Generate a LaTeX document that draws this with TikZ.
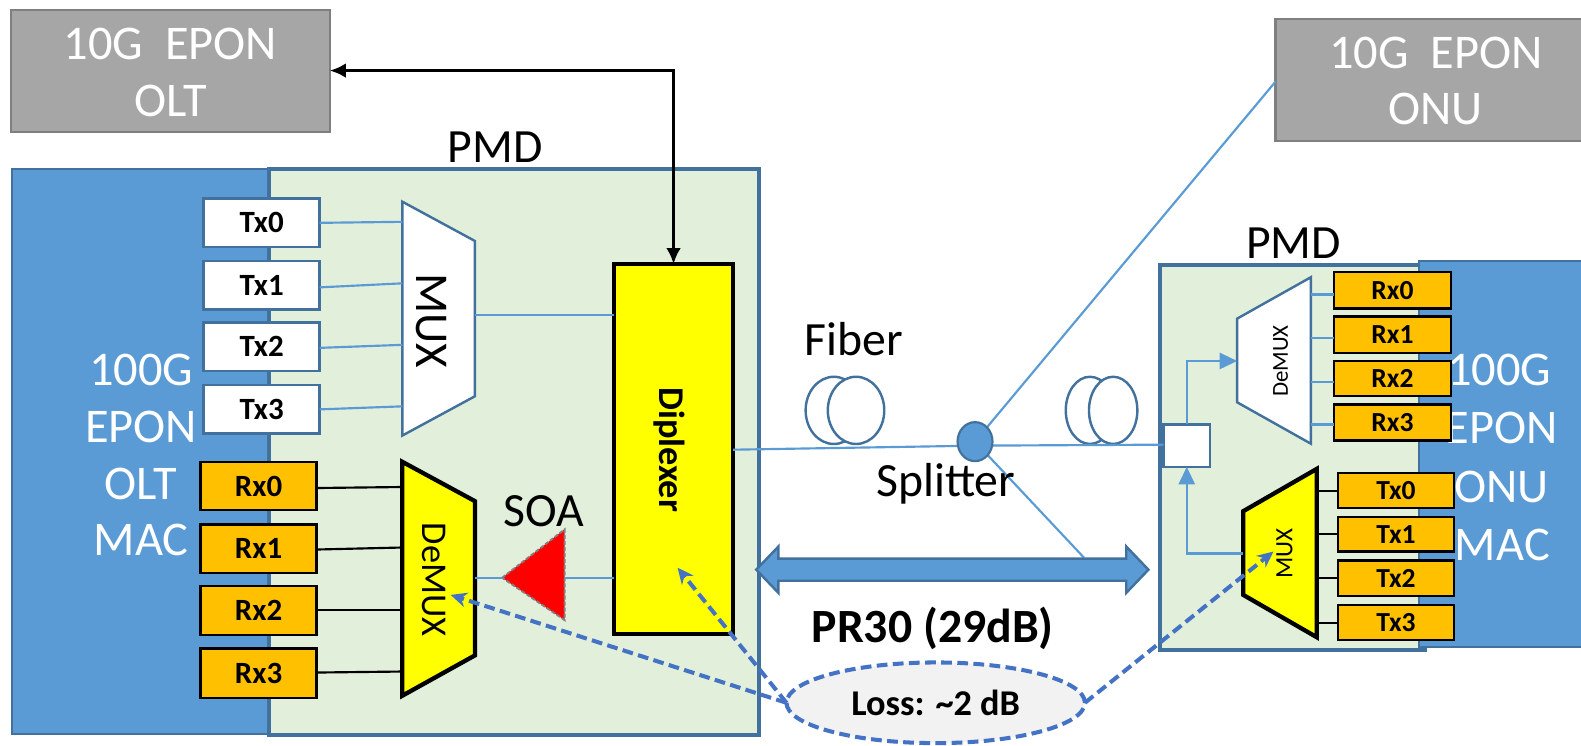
\documentclass[tikz,border=0pt]{standalone}
\usepackage{fontspec}
\setmainfont{Carlito}
\usetikzlibrary{arrows.meta,shapes.geometric,shapes.arrows}
\definecolor{macblue}{HTML}{5B9BD5}
\definecolor{edgeblue}{HTML}{41719C}
\definecolor{pmdgreen}{HTML}{E2EFDA}
\definecolor{dashblue}{HTML}{4472C4}
\definecolor{orangebox}{HTML}{FFC000}
\definecolor{graybox}{HTML}{A6A6A6}
\definecolor{grayedge}{HTML}{7F7F7F}
\definecolor{lossfill}{HTML}{F2F2F2}
\definecolor{pureyellow}{HTML}{FFFF00}
\definecolor{purered}{HTML}{FF0000}
\newcommand{\fsz}[1]{\fontsize{#1}{#1}\selectfont}
% \bx{name}{x0}{y0}{x1}{y1}{style}{text}
\newcommand{\bx}[7]{%
  \pgfmathsetmacro{\bxcx}{(#2+#4)/2}\pgfmathsetmacro{\bxcy}{(#3+#5)/2}%
  \pgfmathsetmacro{\bxw}{(#4-#2)*0.75}\pgfmathsetmacro{\bxh}{(#5-#3)*0.75}%
  \node[#6,minimum width=\bxw pt,minimum height=\bxh pt] (#1) at (\bxcx,\bxcy) {#7};}
\tikzset{
  anybox/.style={draw,inner sep=0pt,outer sep=0pt,align=center},
  graylabel/.style={anybox,fill=graybox,draw=grayedge,line width=1.8pt},
  graytext/.style={text=white,font=\fsz{36},align=center,inner sep=0pt},
  macbox/.style={anybox,fill=macblue,draw=edgeblue,line width=1.5pt},
  pmdbox/.style={anybox,fill=pmdgreen,draw=edgeblue,line width=3pt},
  txwhite/.style={anybox,fill=white,draw=edgeblue,line width=1.8pt,font=\fsz{23}\bfseries},
  rxorange/.style={anybox,fill=orangebox,draw=black,line width=1.8pt,font=\fsz{23}\bfseries},
  rxsmall/.style={anybox,fill=orangebox,draw=black,line width=1.8pt,font=\fsz{20.5}\bfseries},
  diplex/.style={anybox,fill=pureyellow,draw=black,line width=3.2pt},
  whitebox/.style={anybox,fill=white,draw=edgeblue,line width=1.8pt},
  mactext/.style={text=white,font=\fsz{36},inner sep=0pt},
  bigtext/.style={text=black,font=\fsz{35.5},inner sep=0pt},
  muxwhite/.style={fill=white,draw=edgeblue,line width=1.8pt,line join=miter},
  muxyellow/.style={fill=pureyellow,draw=black,line width=3.2pt,line join=miter},
  bluewire/.style={draw=macblue,line width=1.6pt},
  blackwire/.style={draw=black,line width=1.6pt},
  bluearrow/.style={bluewire,-{Triangle[length=13pt,width=12pt]}},
  lossarrow/.style={draw=dashblue,line width=3pt,dashed,dash pattern=on 8pt off 4pt,-{Stealth[length=12pt,width=11pt]}},
  fiberloop/.style={draw=edgeblue,line width=1.8pt,fill=white,ellipse,inner sep=0pt,outer sep=0pt},
}
\begin{document}
\begin{tikzpicture}[x=0.75pt,y=-0.75pt]
\useasboundingbox (0,0) rectangle (1568,739);
\fill[white] (0,0) rectangle (1568,739);

% gray top boxes
\bx{olt}{11}{10}{327}{131}{graylabel}{}
\node[graytext] (oltt1) at (169,44) {10G\ \ EPON};
\node[graytext] (oltt2) at (169,100) {OLT};
\bx{onu}{1265}{19}{1569}{140}{graylabel}{}
\node[graytext] (onut1) at (1424,53) {10G\ \ EPON};
\node[graytext] (onut2) at (1424,108) {ONU};

% left block
\bx{lmac}{12}{168}{268}{728}{macbox}{}
\bx{lpmd}{267}{168}{753}{729}{pmdbox}{}
\node[bigtext] (lpmdt) at (491,146) {PMD};
\node[mactext] (lm1) at (140,367) {100G};
\node[mactext] (lm2) at (140,423) {EPON};
\node[mactext] (lm3) at (140,480) {OLT};
\node[mactext] (lm4) at (140,536) {MAC};

% right block
\bx{rpmd}{1150}{263}{1413}{645}{pmdbox}{}
\bx{rmac}{1407}{259}{1569}{642}{macbox}{}
\node[bigtext] (rpmdt) at (1283,241) {PMD};
\node[mactext] (rm1) at (1487,367) {100G};
\node[mactext] (rm2) at (1489,424) {EPON};
\node[mactext] (rm3) at (1489,483) {ONU};
\node[mactext] (rm4) at (1490,540) {MAC};

% left Tx / Rx
\bx{ltx0}{202}{197}{317}{245}{txwhite}{Tx0}
\bx{ltx1}{202}{259}{317}{307}{txwhite}{Tx1}
\bx{ltx2}{202}{320}{317}{368}{txwhite}{Tx2}
\bx{ltx3}{202}{382}{317}{430}{txwhite}{Tx3}
\bx{lrx0}{199}{458}{314}{506}{rxorange}{Rx0}
\bx{lrx1}{199}{520}{314}{568}{rxorange}{Rx1}
\bx{lrx2}{199}{581}{314}{630}{rxorange}{Rx2}
\bx{lrx3}{199}{643}{314}{692}{rxorange}{Rx3}

% left MUX / DeMUX
\draw[muxwhite] (399,200) -- (471,239) -- (471,393) -- (399,432) -- cycle;
\node[rotate=-90,font=\fsz{35},inner sep=0pt] (lmuxt) at (428,318) {MUX};
\draw[muxyellow] (399,458) -- (471,497) -- (471,650) -- (399,690) -- cycle;
\node[rotate=-90,font=\fsz{27},inner sep=0pt] (ldmuxt) at (430,575) {DeMUX};

% Diplexer
\bx{dip}{609}{262}{727}{629}{diplex}{}
\node[rotate=-90,font=\fsz{27}\bfseries,inner sep=0pt] (dipt) at (664,446) {Diplexer};

% SOA
\draw[fill=purered,draw=gray,line width=1.4pt,dashed,dash pattern=on 3pt off 1.5pt] (498,573) -- (560,525) -- (560,615) -- cycle;
\node[bigtext] (soat) at (539,507) {SOA};

% left ports
\coordinate (m0) at (399,220); \coordinate (m1) at (399,281);
\coordinate (m2) at (399,342); \coordinate (m3) at (399,403);
\coordinate (mo) at (471,312);
\coordinate (d0) at (399,483); \coordinate (d1) at (399,543);
\coordinate (d2) at (399,605); \coordinate (d3) at (399,666);
\coordinate (di) at (471,573);
\coordinate (soal) at (498,573); \coordinate (soar) at (560,573);
\draw[bluewire] (ltx0.east |- 0,221) -- (m0);
\draw[bluewire] (ltx1.east |- 0,285) -- (m1);
\draw[bluewire] (ltx2.east |- 0,345) -- (m2);
\draw[bluewire] (ltx3.east |- 0,406) -- (m3);
\draw[blackwire] (lrx0.east |- 0,484) -- (d0);
\draw[blackwire] (lrx1.east |- 0,545) -- (d1);
\draw[blackwire] (lrx2.east |- 0,605) -- (d2);
\draw[blackwire] (lrx3.east |- 0,667) -- (d3);
\draw[bluewire] (mo) -- (dip.west |- mo);
\draw[bluewire] (di) -- (soal);
\draw[bluewire] (soar) -- (dip.west |- soar);

% black double arrow
\draw[black,line width=2.4pt,{Latex[length=12pt,width=11pt]}-{Latex[length=12pt,width=11pt]}]
  (olt.east |- 0,70) -- (dip.north |- 0,70) -- (dip.north);

% right Rx / Tx
\bx{rrx0}{1323}{270}{1439}{306}{rxsmall}{Rx0}
\bx{rrx1}{1323}{314}{1439}{350}{rxsmall}{Rx1}
\bx{rrx2}{1323}{358}{1439}{393}{rxsmall}{Rx2}
\bx{rrx3}{1323}{401}{1439}{437}{rxsmall}{Rx3}
\bx{rtx0}{1327}{469}{1442}{504}{rxsmall}{Tx0}
\bx{rtx1}{1327}{513}{1442}{547}{rxsmall}{Tx1}
\bx{rtx2}{1327}{556}{1442}{591}{rxsmall}{Tx2}
\bx{rtx3}{1327}{600}{1442}{635}{rxsmall}{Tx3}

% right DeMUX / MUX
\draw[muxwhite] (1227,316) -- (1300,275) -- (1300,440) -- (1227,399) -- cycle;
\node[rotate=90,font=\fsz{17},inner sep=0pt] (rdmuxt) at (1270,358) {DeMUX};
\draw[muxyellow] (1233,507) -- (1306,465) -- (1306,632) -- (1233,590) -- cycle;
\node[rotate=90,font=\fsz{18.5},inner sep=0pt] (rmuxt) at (1274,549) {MUX};

\coordinate (q0) at (1300,292); \coordinate (q1) at (1300,335);
\coordinate (q2) at (1300,379); \coordinate (q3) at (1300,421);
\coordinate (p0) at (1306,487); \coordinate (p1) at (1306,530);
\coordinate (p2) at (1306,573); \coordinate (p3) at (1306,618);
\draw[bluewire] (q0) -- (rrx0.west |- q0);
\draw[bluewire] (q1) -- (rrx1.west |- q1);
\draw[bluewire] (q2) -- (rrx2.west |- q2);
\draw[bluewire] (q3) -- (rrx3.west |- q3);
\draw[blackwire] (p0) -- (rtx0.west |- p0);
\draw[blackwire] (p1) -- (rtx1.west |- p1);
\draw[blackwire] (p2) -- (rtx2.west |- p2);
\draw[blackwire] (p3) -- (rtx3.west |- p3);

% coupler box
\bx{cpl}{1154}{421}{1200}{463}{whitebox}{}
\coordinate (dmi) at (1227,358);
\coordinate (mxo) at (1233,549);
\draw[bluearrow] (cpl.north) -- (cpl.north |- dmi) -- (dmi);
\draw[bluearrow] (mxo) -- (cpl.south |- mxo) -- (cpl.south);

% fibers
\node[fiberloop,minimum width=42pt,minimum height=50pt] (fl1) at (827,407) {};
\node[fiberloop,minimum width=42pt,minimum height=50pt] (fl2) at (849,407) {};
\node[fiberloop,minimum width=36pt,minimum height=50pt] (fr1) at (1081,407) {};
\node[fiberloop,minimum width=36pt,minimum height=50pt] (fr2) at (1104,407) {};
\node[bigtext] (fibt) at (847,336) {Fiber};

% splitter
\coordinate (dipo) at (727,446);
\coordinate (cpli) at (1154,441);
\coordinate (bigtap) at (1075,553);
\coordinate (onuin) at (1265,81);
\draw[bluewire] (dipo) -- (967,442) -- (cpli);
\draw[bluewire] (967,438) -- (onuin);
\draw[bluewire] (967,438) -- (bigtap);
\node[ellipse,fill=macblue,draw=edgeblue,line width=1.6pt,minimum width=26pt,minimum height=29pt,inner sep=0pt,outer sep=0pt] (spl) at (967,438) {};
\node[bigtext] (splt) at (938,480) {Splitter};

% big double arrow
\draw[fill=macblue,draw=edgeblue,line width=1.8pt,line join=miter]
 (750,565) -- (772,542) -- (772,554) -- (1117,554) -- (1117,542) -- (1139,565) -- (1117,588) -- (1117,576) -- (772,576) -- (772,588) -- cycle;
\node[font=\fsz{35.5}\bfseries,inner sep=0pt] (prt) at (925,623) {PR30 (29dB)};

% loss ellipse
\node[ellipse,fill=lossfill,draw=dashblue,line width=3pt,dashed,dash pattern=on 8pt off 4pt,minimum width=222pt,minimum height=60pt,inner sep=0pt,outer sep=0pt,font=\fsz{27}\bfseries] (loss) at (928,697) {Loss: \textasciitilde2 dB};
\coordinate (tdm) at (447,590);
\coordinate (tdp) at (672,563);
\coordinate (tmx) at (1263,547);
\draw[lossarrow] (loss.west) -- (tdm);
\draw[lossarrow] (loss.west) -- (tdp);
\draw[lossarrow] (loss.east) -- (tmx);
\end{tikzpicture}
\end{document}
